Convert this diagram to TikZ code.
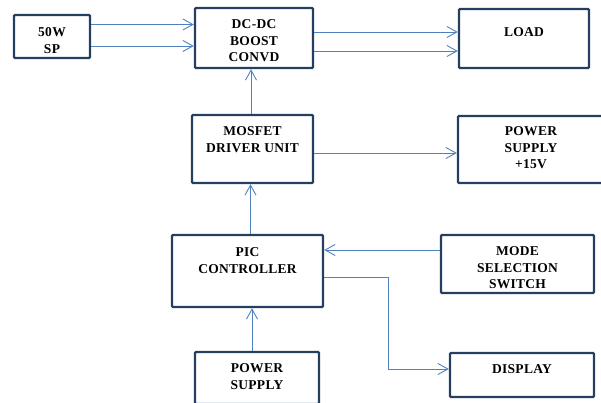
\documentclass[tikz,border=0pt]{standalone}
\usepackage{fontspec}
\setmainfont{Liberation Serif}[LetterSpace=2]
\usetikzlibrary{arrows.meta}
\usetikzlibrary{positioning}
\definecolor{boxline}{HTML}{243F60}
\definecolor{linkline}{HTML}{4F81BD}
\tikzset{blk/.style = {draw=boxline, line width=2.4pt, rounded corners=1pt, inner sep=0pt}}
\tikzset{txt/.style = {inner sep=0pt, align=center, font=\fontsize{13.5}{16.5}\selectfont\bfseries}}
\tikzset{link/.style = {draw=linkline, line width=0.9pt, -{Straight Barb[length=10pt,width=11pt,line width=0.9pt]}}}

\begin{document}
\begin{tikzpicture}[x=1pt,y=-1pt]
	\useasboundingbox (0,0) rectangle (601,403);
	\node[blk, minimum width=76pt, minimum height=43pt] (sp) at (52,36.5) {};
	\node[txt, below=14pt of sp.north] (sp-t) {50W\\SP};
	\node[blk, minimum width=118pt, minimum height=60pt] (conv) at (254,38) {};
	\node[txt, below=13pt of conv.north] (conv-t) {DC-DC\\BOOST\\CONVD};
	\node[blk, minimum width=130pt, minimum height=59pt] (load) at (524,38.5) {};
	\node[txt, below=20pt of load.north] (load-t) {LOAD};
	\node[blk, minimum width=121pt, minimum height=68pt] (drv) at (252.5,149) {};
	\node[txt, below=13pt of drv.north] (drv-t) {MOSFET\\DRIVER UNIT};
	\node[blk, minimum width=150pt, minimum height=67pt] (ps15) at (533,149.5) {};
	\node[txt, below=12pt of ps15.north, xshift=-2pt] (ps15-t) {POWER\\SUPPLY\\+15V};
	\node[blk, minimum width=151pt, minimum height=72pt] (pic) at (247.5,271) {};
	\node[txt, below=14pt of pic.north] (pic-t) {PIC\\CONTROLLER};
	\node[blk, minimum width=153pt, minimum height=58pt] (mode) at (517.5,264) {};
	\node[txt, below=13pt of mode.north] (mode-t) {MODE\\SELECTION\\SWITCH};
	\node[blk, minimum width=124pt, minimum height=52pt] (psu) at (257,378) {};
	\node[txt, below=13pt of psu.north] (psu-t) {POWER\\SUPPLY};
	\node[blk, minimum width=144pt, minimum height=44pt] (disp) at (522,375) {};
	\node[txt, below=13pt of disp.north] (disp-t) {DISPLAY};
	\draw[link] ([yshift=12pt]sp.east) -- ([yshift=12pt]sp.east -| conv.west);
	\draw[link] ([yshift=-9.5pt]sp.east) -- ([yshift=-9.5pt]sp.east -| conv.west);
	\draw[link] ([yshift=6pt]conv.east) -- ([yshift=6pt]conv.east -| load.west);
	\draw[link] ([yshift=-13pt]conv.east) -- ([yshift=-13pt]conv.east -| load.west);
	\draw[link] ([xshift=-1.5pt]drv.north) -- ([xshift=-1.5pt]drv.north |- conv.south);
	\draw[link] ([yshift=-4pt]drv.east) -- ([yshift=-4pt]drv.east -| ps15.west);
	\draw[link] ([xshift=3pt]pic.north) -- ([xshift=3pt]pic.north |- drv.south);
	\draw[link] ([yshift=14pt]mode.west) -- ([yshift=14pt]mode.west -| pic.east);
	\draw[link] ([yshift=-6pt]pic.east) -- ++(64,0) |- ([yshift=6pt]disp.west);
	\draw[link] ([xshift=-5pt]psu.north) -- ([xshift=-5pt]psu.north |- pic.south);
\end{tikzpicture}
\end{document}
